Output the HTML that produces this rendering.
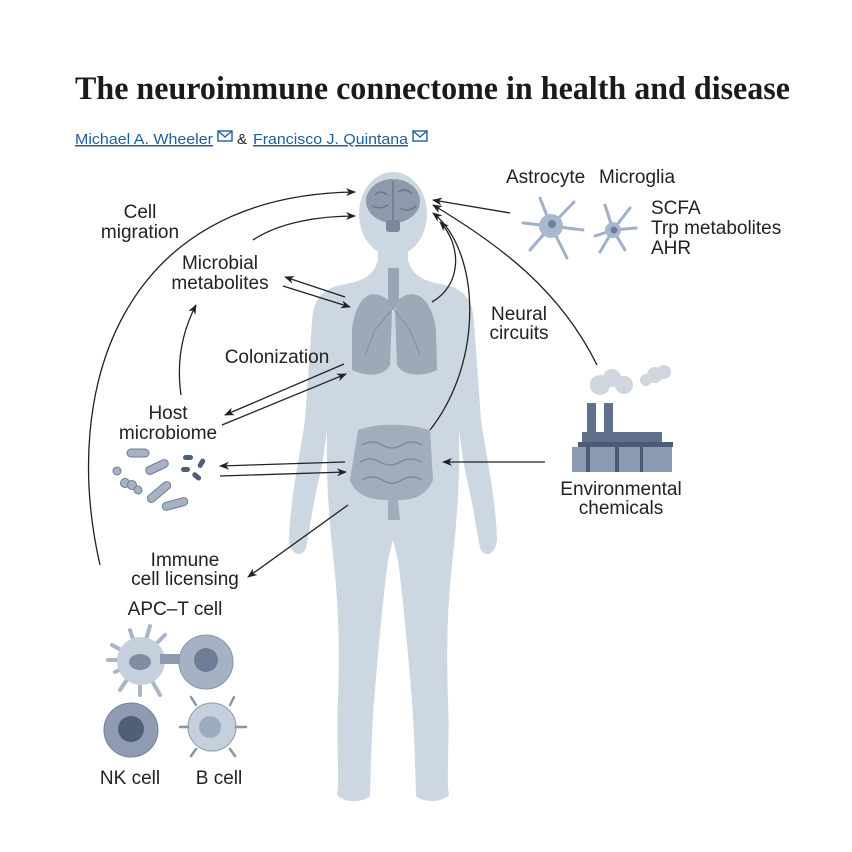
<!DOCTYPE html>
<html><head><meta charset="utf-8"><style>
html,body{margin:0;padding:0;background:#fff;}
svg{display:block;}
.l{font-family:"Liberation Sans",sans-serif;font-size:19px;fill:#222;}
</style></head><body>
<svg width="852" height="852" viewBox="0 0 852 852" xmlns="http://www.w3.org/2000/svg">
<defs>
<marker id="a" markerWidth="10" markerHeight="8" refX="9" refY="4" orient="auto" markerUnits="userSpaceOnUse">
<path d="M0,0 L10,4 L0,8 L3,4 Z" fill="#222"/></marker>
</defs>
<text x="75" y="99" font-family="Liberation Serif,serif" font-weight="bold" font-size="33" fill="#1a1a1a" textLength="715" lengthAdjust="spacingAndGlyphs">The neuroimmune connectome in health and disease</text>
<g font-family="Liberation Sans,sans-serif" font-size="15">
<text x="75" y="144" fill="#1f5fa0" text-decoration="underline" textLength="138" lengthAdjust="spacingAndGlyphs">Michael A. Wheeler</text>
<rect x="218" y="131" width="14" height="10" fill="none" stroke="#1f5fa0" stroke-width="1.4"/><path d="M218,131 L225,137 L232,131" fill="none" stroke="#1f5fa0" stroke-width="1.4"/>
<text x="237" y="144" fill="#222">&amp;</text>
<text x="253" y="144" fill="#1f5fa0" text-decoration="underline" textLength="155" lengthAdjust="spacingAndGlyphs">Francisco J. Quintana</text>
<rect x="413" y="131" width="14" height="10" fill="none" stroke="#1f5fa0" stroke-width="1.4"/><path d="M413,131 L420,137 L427,131" fill="none" stroke="#1f5fa0" stroke-width="1.4"/>
</g>
<!-- body -->
<g fill="#cdd7e1">
<ellipse cx="393" cy="214" rx="34" ry="42"/>
<rect x="378" y="245" width="30" height="30"/>
<path id="bh" d="M393,262 L377,262 C374,275 362,282 340,285 C320,290 313,302 312,322 L305,420 C299,460 290,500 289,540 C291,556 302,558 306,548 L311,520 C313,505 319,480 323,460 L327,430 C326,470 328,510 333,555 C338,600 340,640 338,700 C336,740 340,780 337,795 C345,803 362,803 370,796 C371,760 372,720 375,690 C379,640 384,590 388,560 L393,540 Z"/>
<use href="#bh" transform="translate(786,0) scale(-1,1)"/>
</g>
<!-- brain -->
<ellipse cx="393" cy="201" rx="27" ry="22" fill="#8e9aab"/>
<path d="M393,181 V220 M375,195 q6,-6 12,0 M398,192 q8,-5 14,2 M372,206 q8,4 16,-1 M400,208 q8,5 16,-2" stroke="#6b7789" fill="none" stroke-width="1.5"/>
<rect x="386" y="220" width="14" height="12" rx="3" fill="#7c889a"/>
<!-- trachea & lungs -->
<rect x="388" y="268" width="11" height="40" fill="#9aa5b4"/>
<path d="M388,300 C370,285 355,300 352,330 L352,370 C370,378 385,375 390,365 L392,312 Z" fill="#9ea9b7"/>
<path d="M398,300 C416,285 432,300 436,330 L437,370 C420,378 402,375 397,365 L395,312 Z" fill="#9ea9b7"/>
<path d="M393,308 L375,330 L365,355 M393,308 L410,330 L420,355" stroke="#7f8a9a" fill="none"/>
<!-- gut -->
<path d="M358,430 C380,422 410,424 430,430 L433,480 C425,500 405,500 398,500 L400,520 L388,520 L388,500 C370,500 355,495 350,480 Z" fill="#a2acba"/>
<path d="M362,445 q10,-6 20,0 q10,6 20,0 q10,-6 20,0 M360,462 q10,-6 20,0 q10,6 20,0 q10,-6 22,0 M362,480 q10,-6 20,0 q10,6 20,0 q10,-6 20,0" stroke="#7f8a9a" fill="none" stroke-width="1.5"/>
<!-- arrows -->
<g fill="none" stroke="#222" stroke-width="1.3" marker-end="url(#a)">
<path d="M100,565 C60,390 120,195 355,192"/>
<path d="M253,240 C280,222 320,216 355,216"/>
<path d="M345,297 L285,277"/>
<path d="M283,286 L350,307"/>
<path d="M181,395 C176,360 183,330 196,305"/>
<path d="M344,364 L225,415"/>
<path d="M222,425 L346,374"/>
<path d="M345,462 L220,466"/>
<path d="M220,476 L346,472"/>
<path d="M348,505 L248,577"/>
<path d="M545,462 L443,462"/>
<path d="M430,430 C485,360 480,250 433,213"/>
<path d="M432,302 C462,285 462,245 440,222"/>
<path d="M597,365 C560,290 500,245 433,205"/>
<path d="M510,213 L433,200"/>
</g>
<!-- labels -->
<g class="l" text-anchor="middle">
<text x="140" y="218" class="l">Cell</text><text x="140" y="238" class="l">migration</text>
<text x="220" y="269" class="l">Microbial</text><text x="220" y="289" class="l">metabolites</text>
<text x="277" y="363" class="l">Colonization</text>
<text x="168" y="419" class="l">Host</text><text x="168" y="439" class="l">microbiome</text>
<text x="185" y="566" class="l">Immune</text><text x="185" y="585" class="l">cell licensing</text>
<text x="175" y="615" class="l">APC–T cell</text>
<text x="130" y="784" class="l">NK cell</text><text x="219" y="784" class="l">B cell</text>
<text x="519" y="320" class="l">Neural</text><text x="519" y="339" class="l">circuits</text>
<text x="621" y="495" class="l">Environmental</text><text x="621" y="514" class="l">chemicals</text>
</g>
<g class="l">
<text x="506" y="183" class="l">Astrocyte</text><text x="599" y="183" class="l">Microglia</text>
<text x="651" y="214" class="l">SCFA</text><text x="651" y="234" class="l">Trp metabolites</text><text x="651" y="254" class="l">AHR</text>
</g>
<!-- astrocyte & microglia -->
<g stroke="#9fb0c8" stroke-width="3" fill="none" stroke-linecap="round">
<path d="M551,226 L540,198 M551,226 L574,202 M551,226 L523,223 M551,226 L530,250 M551,226 L567,258 M551,226 L583,230"/>
<path d="M613,230 L605,205 M613,230 L630,208 M613,230 L595,236 M613,230 L600,252 M613,230 L625,250 M613,230 L636,228"/>
</g>
<circle cx="551" cy="226" r="12" fill="#a8b8ce"/><circle cx="552" cy="224" r="4" fill="#6e7f98"/>
<circle cx="613" cy="230" r="8" fill="#a8b8ce"/><circle cx="614" cy="230" r="3.5" fill="#6e7f98"/>
<!-- factory -->
<g fill="#cfd6de"><circle cx="600" cy="385" r="10"/><circle cx="612" cy="378" r="9"/><circle cx="624" cy="385" r="9"/><circle cx="655" cy="375" r="8"/><circle cx="664" cy="372" r="7"/><circle cx="646" cy="380" r="6"/></g>
<g fill="#5f708a"><rect x="587" y="403" width="9" height="32"/><rect x="604" y="403" width="9" height="32"/><rect x="582" y="432" width="80" height="10"/><rect x="578" y="442" width="95" height="5" fill="#4b5b75"/></g>
<rect x="572" y="447" width="100" height="25" fill="#8a9ab1"/>
<g fill="#4b5b75"><rect x="586" y="447" width="4" height="25"/><rect x="615" y="447" width="4" height="25"/><rect x="640" y="447" width="3" height="25"/></g>
<!-- bacteria -->
<g fill="#a6b1c2" stroke="#6f7d92" stroke-width="1">
<rect x="127" y="449" width="22" height="8" rx="4"/><rect x="145" y="463" width="24" height="8" rx="4" transform="rotate(-25 157 467)"/>
<circle cx="117" cy="471" r="4"/><circle cx="125" cy="483" r="4.5"/><circle cx="132" cy="485" r="4.5"/><circle cx="138" cy="490" r="4"/>
<rect x="145" y="488" width="28" height="8" rx="4" transform="rotate(-40 159 492)"/><rect x="162" y="500" width="26" height="8" rx="4" transform="rotate(-15 175 504)"/>
</g>
<g fill="#4e5e78"><rect x="183" y="455" width="10" height="5" rx="2.5"/><rect x="196" y="461" width="10" height="5" rx="2.5" transform="rotate(-60 201 463)"/><rect x="192" y="474" width="10" height="5" rx="2.5" transform="rotate(40 197 476)"/><rect x="181" y="467" width="9" height="5" rx="2.5"/></g>
<!-- immune cells -->
<g stroke="#a9b6c8" stroke-width="4" stroke-linecap="round"><path d="M140,660 L112,645 M140,660 L115,672 M140,660 L120,690 M140,660 L140,695 M140,660 L160,695 M140,660 L130,630 M140,660 L150,626 M140,660 L165,635 M140,660 L108,660"/></g>
<circle cx="141" cy="661" r="24" fill="#c6d0dc"/>
<ellipse cx="140" cy="662" rx="11" ry="8" fill="#7f8ea4"/>
<rect x="160" y="654" width="22" height="10" fill="#8d9bb0"/>
<circle cx="206" cy="662" r="27" fill="#a5b2c3" stroke="#8695aa"/><circle cx="206" cy="660" r="12" fill="#6f7e96"/>
<circle cx="131" cy="730" r="27" fill="#8e9bb0" stroke="#73829a"/><circle cx="131" cy="729" r="13" fill="#4f5f78"/>
<circle cx="212" cy="727" r="24" fill="#c6d0dc" stroke="#8e9bb0"/><circle cx="210" cy="727" r="11" fill="#9dabbf"/>
<g stroke="#8695aa" stroke-width="2.5" stroke-linecap="round"><path d="M196,705 L191,697 M230,705 L234,697 M236,727 L246,727 M230,749 L235,756 M196,749 L191,756 M188,727 L180,727"/></g>
</svg>
</body></html>
